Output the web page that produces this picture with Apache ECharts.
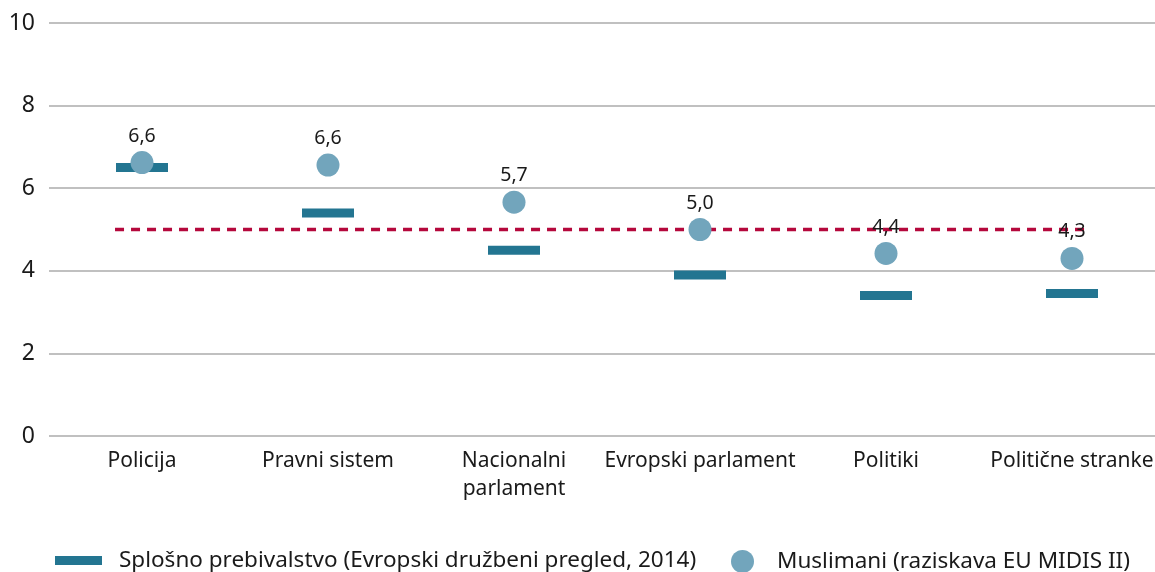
<!DOCTYPE html>
<html>
<head>
<meta charset="utf-8">
<script src="https://cdn.jsdelivr.net/npm/echarts@6/dist/echarts.min.js"></script>
<style>
html, body { margin: 0; padding: 0; background: #fff; }
#main { width: 1155px; height: 572px; }
</style>
</head>
<body>
<div id="main"></div>
<script>
var categories = ['Policija', 'Pravni sistem', 'Nacionalni\nparlament', 'Evropski parlament', 'Politiki', 'Politične stranke'];
var splosno = [6.5, 5.4, 4.5, 3.9, 3.4, 3.45];
var muslimani = [6.62, 6.56, 5.66, 5.0, 4.42, 4.3];
var povprecje = [5.0, 5.0, 5.0, 5.0, 5.0, 5.0];
var yTicks = [0, 2, 4, 6, 8, 10];

var nameSplosno = 'Splošno prebivalstvo (Evropski družbeni pregled, 2014)';
var nameMuslimani = 'Muslimani (raziskava EU MIDIS II)';

var font = 'Noto Sans';
var chart = echarts.init(document.getElementById('main'));

function fmt(v) {
	return (Math.round(v * 10) / 10).toFixed(1).replace('.', ',');
}

// povprecje kot ena crtkana crta, malo podaljsana cez prvo in zadnjo kategorijo
function renderAvg(params, api) {
	if (params.dataIndex !== 0) return;
	var band = api.size([1, 0])[0];
	var pts = [];
	for (var i = 0; i < povprecje.length; i++) {
		pts.push(api.coord([i, povprecje[i]]));
	}
	pts[0] = [pts[0][0] - band * 0.145, pts[0][1]];
	var n = pts.length - 1;
	pts[n] = [pts[n][0] + band * 0.075, pts[n][1]];
	return {
		type: 'polyline',
		shape: { points: pts },
		style: { stroke: '#b5083c', lineWidth: 3.5, lineDash: [9, 7], fill: null }
	};
}

var option = {
	animation: false,
	textStyle: { fontFamily: font, color: '#1a1a1a' },
	grid: { left: 49, right: -10, top: 23, bottom: 136, outerBoundsMode: 'none' },
	legend: [
		{
			data: [{ name: nameSplosno, icon: 'rect' }],
			left: 50, bottom: -5,
			itemWidth: 47, itemHeight: 9,
			textStyle: { fontFamily: font, fontSize: 22.5, color: '#1a1a1a', padding: [0, 0, 0, 12] }
		},
		{
			data: [{ name: nameMuslimani, icon: 'circle' }],
			left: 726, bottom: -6,
			itemWidth: 23, itemHeight: 23,
			textStyle: { fontFamily: font, fontSize: 22.5, color: '#1a1a1a', padding: [0, 0, 0, 18] }
		}
	],
	xAxis: {
		type: 'category',
		data: categories,
		axisLine: { show: false },
		axisTick: { show: false },
		axisLabel: { interval: 0, fontFamily: font, fontSize: 21, color: '#1a1a1a', margin: 11, lineHeight: 28, verticalAlign: 'top' }
	},
	yAxis: {
		type: 'value',
		min: yTicks[0],
		max: yTicks[yTicks.length - 1],
		interval: 2,
		axisLine: { show: false },
		axisTick: { show: false },
		splitLine: { lineStyle: { color: '#ababab', width: 1.5 } },
		axisLabel: { fontFamily: font, fontSize: 23, color: '#1a1a1a', margin: 14 }
	},
	series: [
		{
			name: 'Povprečje',
			type: 'custom',
			data: povprecje,
			renderItem: renderAvg,
			silent: true,
			z: 1
		},
		{
			name: nameSplosno,
			type: 'scatter',
			data: splosno,
			symbol: 'rect',
			symbolSize: [52, 9],
			z: 2,
			itemStyle: { color: '#237591', opacity: 1 }
		},
		{
			name: nameMuslimani,
			type: 'scatter',
			data: muslimani,
			symbol: 'circle',
			symbolSize: 23,
			z: 3,
			itemStyle: { color: '#72a5bc', opacity: 1 },
			label: {
				show: true,
				position: 'top',
				distance: 5,
				fontFamily: font,
				fontSize: 19.5,
				color: '#1a1a1a',
				formatter: function (p) { return fmt(p.value); }
			}
		}
	]
};

chart.setOption(option);
</script>
</body>
</html>
